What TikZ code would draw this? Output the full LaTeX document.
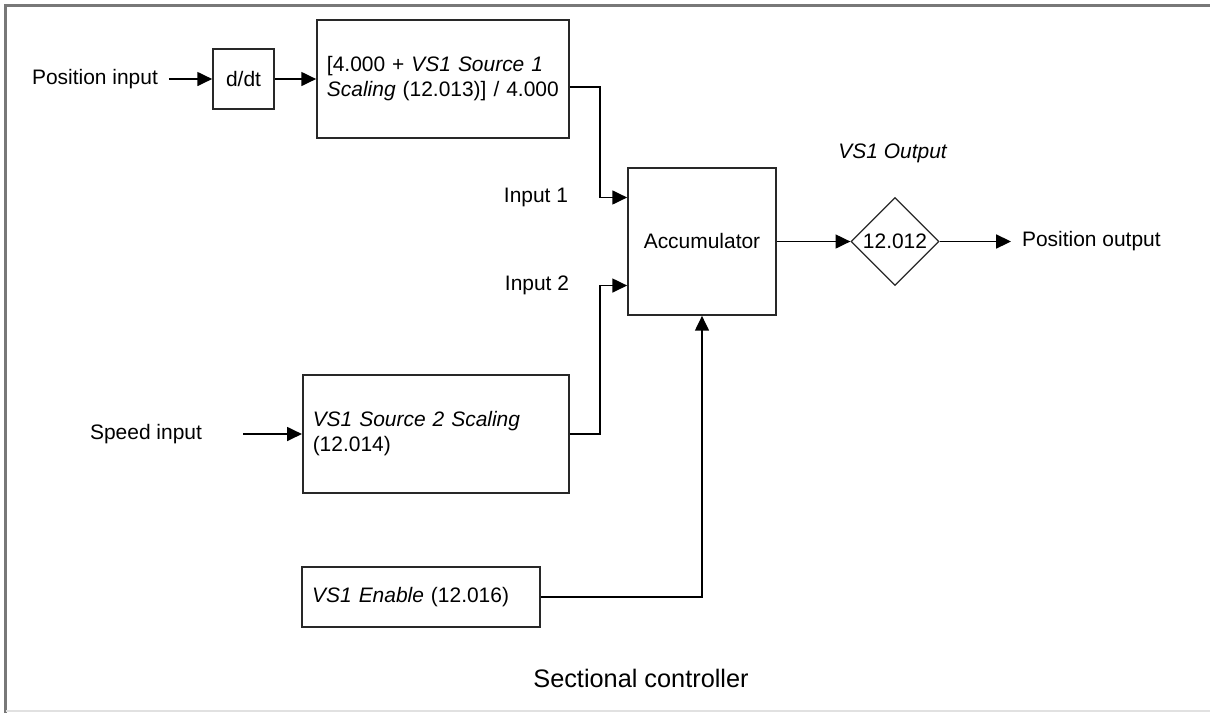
\documentclass[tikz,border=0pt]{standalone}
\usepackage{fontspec}
\setmainfont{Liberation Sans}
\usepackage{tikz}
\usetikzlibrary{shapes.geometric, arrows.meta, positioning}
\definecolor{dark}{RGB}{40,40,40}
\definecolor{framegray}{RGB}{120,120,120}
\definecolor{framelight}{RGB}{225,225,225}
\tikzset{
    block/.style={rectangle, draw=dark, line width=1.2pt, align=left, inner xsep=0.25cm},
    param/.style={diamond, draw=dark, line width=0.9pt, aspect=1, inner sep=0pt, minimum size=2.2cm},
    sigtext/.style={inner xsep=0.27cm},
    flow/.style={-{Triangle[length=0.37cm, width=0.35cm]}, line width=1pt}
}

\begin{document}
\begin{tikzpicture} [
    x=0.025cm, y=-0.025cm,
    every node/.style={font=\fontsize{14.9}{17.8}\selectfont}
]
    \useasboundingbox (0,0) rectangle (1210,713);

    % Outer frame
    \draw[framegray, line width=2.2pt] (1210,5.5) -- (5.5,5.5) -- (5.5,713);
    \draw[framelight, line width=0.8pt] (5.5,711) -- (1210,711);

    % Position path
    \node[sigtext] (pos_in) at (95,79) {Position input};
    \node[block, align=center, minimum width=1.525cm, minimum height=1.5cm] (ddt) at (243.5,79) {d/dt};
    \node[block, text width=5.8cm, minimum height=2.95cm] (scale1) at (443,79) {[4.000 + \textit{VS1 Source 1}\\ \textit{Scaling} (12.013)] / 4.000};

    % Speed path
    \node[sigtext] (speed_in) at (146,434) {Speed input};
    \node[block, text width=6.16cm, minimum height=2.95cm] (scale2) at (436,434) {\textit{VS1 Source 2 Scaling}\\ (12.014)};

    % Enable
    \node[block, text width=5.44cm, minimum height=1.5cm] (enable) at (421,597) {\textit{VS1 Enable} (12.016)};

    % Accumulator and output
    \node[block, align=center, minimum width=3.7cm, minimum height=3.675cm] (acc) at (702,241.5) {Accumulator};
    \node (in1_text) at (536,197) {Input 1};
    \node (in2_text) at (537,285) {Input 2};
    \node[param] (out_val) at (895,241.5) {12.012};
    \node (out_name) at (893,153) {\textit{VS1 Output}};
    \node[sigtext, anchor=west] (pos_out) at (1011,241.5) {Position output};

    \node[font=\fontsize{18}{21}\selectfont] (title) at (641,678) {Sectional controller};

    % Flows
    \draw[flow] (pos_in) -- (ddt);
    \draw[flow] (ddt) -- (scale1);
    \draw[flow] ([yshift=-0.2cm]scale1.east) -- ++(0.75cm,0) |- ([yshift=1.1cm]acc.west);
    \draw[flow] ([xshift=0.75cm]speed_in.east) -- (scale2.west);
    \draw[flow] (scale2.east) -- ++(0.75cm,0) |- ([yshift=-1.1cm]acc.west);
    \draw[flow] (enable.east) -| (acc.south);
    \draw[flow] (acc) -- (out_val);
    \draw[flow] (out_val) -- (pos_out);
\end{tikzpicture}
\end{document}
